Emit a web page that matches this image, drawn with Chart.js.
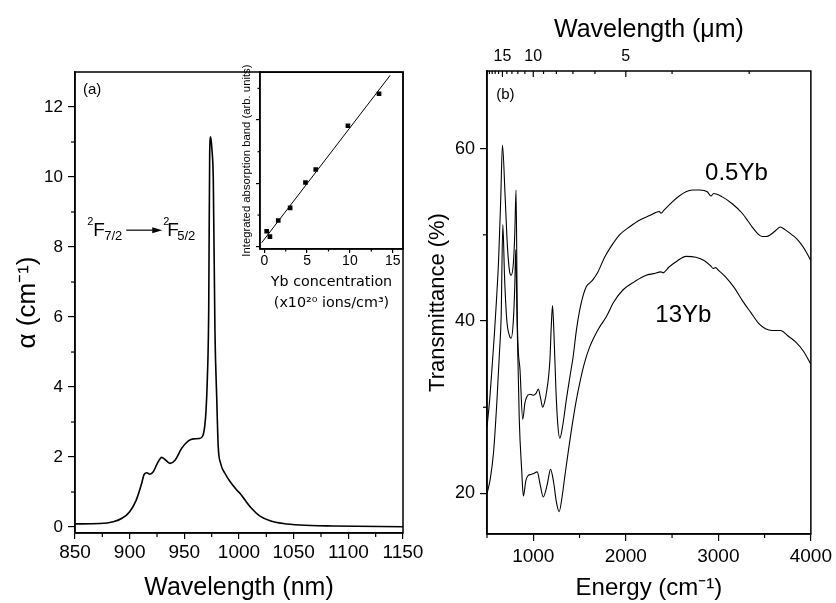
<!DOCTYPE html>
<html>
<head>
<meta charset="utf-8">
<script src="https://cdn.jsdelivr.net/npm/chart.js@4.4.1/dist/chart.umd.min.js"></script>
<style>
  body { margin: 0; background: #fff; }
  #wrap { position: relative; width: 836px; height: 603px; overflow: hidden; }
  canvas { position: absolute; }
</style>
</head>
<body>
<div id="wrap">
  <canvas id="absChart" width="436" height="603" style="left:0px;top:0px"></canvas>
  <canvas id="insetChart" width="185" height="252" style="left:230px;top:62px"></canvas>
  <canvas id="transChart" width="418" height="603" style="left:418px;top:0px"></canvas>
</div>
<script>
// ---- panel (a): absorption spectrum ----
const wavelengthNm = [850, 873, 885, 893, 900, 906, 911, 913, 915.5, 918.6, 921.6, 925.3, 929.3, 932.3,
  936.9, 941.5, 947.6, 953.7, 958.2, 963.7, 966.8, 968.6, 969.8, 971, 972.3, 973.2, 974.1, 975.2,
  976.5, 978, 979.6, 981, 983.2, 987.2, 991.8, 997.9, 1001, 1005.5, 1011.6, 1019.2, 1028.4, 1040.5,
  1055.8, 1086, 1150];
const alpha = [0.09, 0.10, 0.15, 0.25, 0.44, 0.77, 1.25, 1.49, 1.55, 1.51, 1.58, 1.82, 1.99, 1.93,
  1.82, 1.91, 2.25, 2.46, 2.52, 2.53, 2.6, 2.87, 3.3, 4.2, 6.2, 10.7, 11.15, 10.8,
  9.9, 5.6, 3.72, 2.3, 1.82, 1.53, 1.3, 1.06, 0.96, 0.77, 0.53, 0.31, 0.18, 0.10,
  0.057, 0.03, 0.01];
const nmTicks = [850, 900, 950, 1000, 1050, 1100, 1150];
const nmMinor = [875, 925, 975, 1025, 1075, 1125];
const alphaTicks = [0, 2, 4, 6, 8, 10, 12];
const alphaMinor = [1, 3, 5, 7, 9, 11];

// ---- inset: integrated absorption vs Yb concentration ----
const ybConc = [0.28, 0.66, 1.63, 3.02, 4.81, 6.01, 9.77, 13.4];
const integAbs = [0.49, 0.32, 0.83, 1.23, 2.03, 2.44, 3.82, 4.83];
const fitConc = [-0.3, 14.7];
const fitAbs = [0.13, 5.41];
const concTicks = [0, 5, 10, 15];
const concMinor = [2.5, 7.5, 12.5];
const absTicks = [0, 2, 4];
const absMinor = [1, 3, 5];

// ---- panel (b): IR transmittance ----
const energy05 = [500, 530, 555, 580, 600, 625, 648, 667, 696, 721, 742, 760, 785, 800, 814, 828, 857, 886,
  910, 929, 964, 1000, 1030, 1054, 1080, 1101, 1125, 1144, 1165, 1180, 1195, 1208, 1222, 1245, 1265, 1287,
  1320, 1359, 1400, 1430, 1467, 1502, 1540, 1574, 1620, 1645, 1699, 1771, 1850, 1932, 2050, 2147, 2250,
  2362, 2380, 2416, 2500, 2577, 2650, 2720, 2800, 2880, 2920, 2950, 3043, 3150, 3258, 3320, 3366, 3420,
  3473, 3520, 3563, 3620, 3671, 3720, 3796, 3850, 3903, 3950, 4000];
const trans05 = [27.7, 31, 34.7, 38.5, 42, 47, 54, 60.4, 54.4, 48.6, 45.9, 45.3, 46.7, 50, 55.2, 40, 34.3, 28.6,
  30.5, 31.2, 31.5, 31.4, 31.6, 32.1, 31, 30.0, 30.7, 31.8, 33.5, 35.5, 39.5, 41.8, 39, 32, 28, 26.4,
  28, 31, 33.8, 35.8, 39.0, 41.3, 43.0, 44.0, 44.5, 44.8, 45.7, 47.4, 48.8, 50.0, 51, 51.7, 52.2,
  52.7, 52.5, 52.9, 53.8, 54.5, 55.0, 55.2, 55.2, 55.0, 54.5, 54.8, 54.4, 53.6, 52.5, 51.6, 50.9, 50.2,
  49.8, 49.8, 50.0, 50.5, 50.9, 50.6, 50.0, 49.5, 48.8, 48.0, 47.0];
const energy13 = [500, 534, 570, 606, 634, 653, 671, 690, 714, 740, 760, 785, 800, 811, 825, 849, 875, 893,
  920, 946, 975, 1000, 1043, 1075, 1108, 1150, 1187, 1220, 1250, 1280, 1310, 1341, 1380, 1413, 1460, 1502,
  1550, 1610, 1700, 1789, 1870, 1968, 2100, 2219, 2300, 2380, 2400, 2470, 2560, 2650, 2757, 2850, 2918,
  2945, 2970, 3000, 3080, 3170, 3258, 3350, 3438, 3510, 3581, 3640, 3671, 3750, 3832, 3920, 4000];
const trans13 = [20, 21.6, 24.7, 30.5, 36.2, 40.5, 51.2, 45, 40.1, 38.4, 38, 40.1, 44, 48.3, 40, 28.5, 22.7, 19.7,
  21.5, 22.1, 22.2, 22.3, 22.5, 21, 19.6, 21, 22.8, 21.3, 19, 17.9, 19.5, 22, 25, 27.4, 30.5, 32.8,
  35, 37, 39, 40.5, 42.2, 43.6, 44.6, 45.3, 45.5, 45.7, 45.6, 46.3, 47.0, 47.5, 47.4, 47.0, 46.4,
  46.1, 46.2, 45.9, 45.1, 43.9, 42.4, 41.0, 39.7, 39.1, 38.9, 38.9, 38.9, 38.3, 37.6, 36.5, 35.0];
const energyTicks = [1000, 2000, 3000, 4000];
const energyMinor = [500, 1500, 2500, 3500];
const transTicks = [20, 40, 60];
const transMinor = [30, 50];
const umMajor = [15, 10, 5];
const umMinor = [20, 19, 18, 17, 16, 14, 13, 12, 11, 9, 8, 7, 6, 4, 3];

const FONT = '"Liberation Sans", Arial, Helvetica, sans-serif';
Chart.defaults.font.family = FONT;
Chart.defaults.color = '#000';
Chart.defaults.animation = false;

const xy = (xs, ys) => xs.map((x, i) => ({ x: x, y: ys[i] }));
const fixTicks = vals => s => { s.ticks = vals.map(v => ({ value: v })); };
const toMicron = um => 10000 / um;
const plain = v => String(v);

// box around the plot area
const frame = {
  id: 'frame',
  afterDraw(chart) {
    const a = chart.chartArea, ctx = chart.ctx;
    ctx.save();
    ctx.strokeStyle = '#000';
    ctx.lineWidth = 1.5;
    ctx.strokeRect(a.left, a.top, a.right - a.left, a.bottom - a.top);
    ctx.restore();
  }
};

// minor ticks (and inward ticks on the top axis)
function tickMarks(marks) {
  return {
    id: 'tickMarks',
    afterDraw(chart) {
      const ctx = chart.ctx;
      ctx.save();
      ctx.strokeStyle = '#000';
      ctx.lineWidth = 1.2;
      marks.forEach(m => {
        const s = chart.scales[m.axis];
        m.values.forEach(v => {
          const p = s.getPixelForValue(v);
          ctx.beginPath();
          if (s.isHorizontal()) {
            const y0 = s.position === 'top' ? s.bottom : s.top;
            ctx.moveTo(p, y0); ctx.lineTo(p, y0 + m.len);
          } else {
            ctx.moveTo(s.right, p); ctx.lineTo(s.right - m.len, p);
          }
          ctx.stroke();
        });
      });
      ctx.restore();
    }
  };
}

function txt(ctx, s, x, y, size, base) {
  ctx.font = size + 'px ' + FONT;
  ctx.textBaseline = base || 'alphabetic';
  ctx.textAlign = 'left';
  ctx.fillText(s, x, y);
}

function textLabels(draw) {
  return {
    id: 'textLabels',
    afterDraw(chart) {
      const ctx = chart.ctx;
      ctx.save();
      ctx.fillStyle = '#000';
      ctx.strokeStyle = '#000';
      draw(chart, ctx, chart.scales.x, chart.scales.y);
      ctx.restore();
    }
  };
}

const axisGrid = len => ({ drawOnChartArea: false, tickLength: len, color: '#000', lineWidth: 1.2 });
const axisBorder = { color: '#000', width: 1.5 };

// ---------- panel (a) ----------
new Chart(document.getElementById('absChart'), {
  type: 'line',
  data: {
    datasets: [{
      data: xy(wavelengthNm, alpha),
      borderColor: '#000',
      borderWidth: 1.6,
      pointRadius: 0,
      cubicInterpolationMode: 'monotone',
      fill: false
    }]
  },
  options: {
    responsive: false,
    layout: { padding: { left: 0, right: 33, top: 72, bottom: 0 } },
    plugins: { legend: { display: false }, tooltip: { enabled: false } },
    scales: {
      x: {
        type: 'linear', min: 850, max: 1150,
        afterBuildTicks: fixTicks(nmTicks),
        afterFit: s => { s.height = 70; },
        grid: axisGrid(6),
        border: axisBorder,
        ticks: { font: { size: 19 }, padding: 2, maxRotation: 0, autoSkip: false, callback: plain },
        title: { display: true, text: 'Wavelength (nm)', font: { size: 25 }, padding: { top: 0, bottom: 0 } }
      },
      y: {
        type: 'linear', min: -0.17, max: 13,
        afterBuildTicks: fixTicks(alphaTicks),
        afterFit: s => { s.width = 75; },
        grid: axisGrid(7),
        border: axisBorder,
        ticks: { font: { size: 17 }, padding: 5, callback: plain },
        title: { display: true, text: 'α (cm⁻¹)', font: { size: 26 }, padding: { top: 12, bottom: 0 } }
      }
    }
  },
  plugins: [frame,
    tickMarks([{ axis: 'x', values: nmMinor, len: 4 }, { axis: 'y', values: alphaMinor, len: 4 }]),
    textLabels((chart, ctx, x, y) => {
      txt(ctx, '(a)', x.getPixelForValue(857.3), y.getPixelForValue(12.49), 15, 'middle');
      const fx = x.getPixelForValue(866.7), fy = y.getPixelForValue(8.31);
      txt(ctx, '2', fx - 6, fy - 11.5, 11);
      txt(ctx, 'F', fx, fy, 19);
      txt(ctx, '7/2', fx + 11, fy + 4, 13);
      ctx.lineWidth = 1.2;
      ctx.beginPath(); ctx.moveTo(fx + 33, fy - 6); ctx.lineTo(fx + 60, fy - 6); ctx.stroke();
      ctx.beginPath(); ctx.moveTo(fx + 69, fy - 6); ctx.lineTo(fx + 59, fy - 9);
      ctx.lineTo(fx + 59, fy - 3); ctx.closePath(); ctx.fill();
      txt(ctx, '2', fx + 70, fy - 11.5, 11);
      txt(ctx, 'F', fx + 74, fy, 19);
      txt(ctx, '5/2', fx + 84, fy + 4, 13);
    })]
});

// ---------- inset ----------
new Chart(document.getElementById('insetChart'), {
  type: 'scatter',
  data: {
    datasets: [
      {
        data: xy(ybConc, integAbs),
        pointStyle: 'rect',
        pointRadius: 3.3,
        backgroundColor: '#000',
        borderColor: '#000',
        borderWidth: 0
      },
      {
        data: xy(fitConc, fitAbs),
        showLine: true,
        pointRadius: 0,
        borderColor: '#000',
        borderWidth: 1
      }
    ]
  },
  options: {
    responsive: false,
    layout: { padding: { left: 0, right: 12, top: 10, bottom: 0 } },
    plugins: { legend: { display: false }, tooltip: { enabled: false } },
    scales: {
      x: {
        type: 'linear', min: -0.5, max: 16.2,
        afterBuildTicks: fixTicks(concTicks),
        afterFit: s => { s.height = 65; },
        grid: axisGrid(4),
        border: axisBorder,
        ticks: { font: { size: 14 }, padding: 0, maxRotation: 0, autoSkip: false, callback: plain },
        title: {
          display: true,
          text: ['Yb concentration', '(x10²⁰ ions/cm³)'],
          font: { family: '"DejaVu Sans", sans-serif', size: 14.3, lineHeight: 1.5 },
          padding: { top: 0, bottom: 0 }
        }
      },
      y: {
        type: 'linear', min: -0.07, max: 5.51,
        afterBuildTicks: fixTicks(absTicks),
        afterFit: s => { s.width = 30; },
        grid: axisGrid(4),
        border: axisBorder,
        ticks: { callback: () => '' },
        title: {
          display: true, text: 'Integrated absorption band (arb. units)',
          font: { size: 11.3 }, padding: { top: 10, bottom: 0 }
        }
      }
    }
  },
  plugins: [frame,
    tickMarks([{ axis: 'x', values: concMinor, len: 2.5 }, { axis: 'y', values: absMinor, len: 2.5 }])]
});

// ---------- panel (b) ----------
const curve = { borderColor: '#000', borderWidth: 1.1, pointRadius: 0, cubicInterpolationMode: 'monotone', fill: false };

new Chart(document.getElementById('transChart'), {
  type: 'line',
  data: {
    datasets: [
      Object.assign({ label: '0.5Yb', data: xy(energy05, trans05) }, curve),
      Object.assign({ label: '13Yb', data: xy(energy13, trans13) }, curve)
    ]
  },
  options: {
    responsive: false,
    layout: { padding: { left: 0, right: 24, top: 0, bottom: 0 } },
    plugins: { legend: { display: false }, tooltip: { enabled: false } },
    scales: {
      x: {
        type: 'linear', min: 500, max: 4000,
        afterBuildTicks: fixTicks(energyTicks),
        afterFit: s => { s.height = 69; },
        grid: axisGrid(7),
        border: axisBorder,
        ticks: { font: { size: 19 }, padding: 4, maxRotation: 0, autoSkip: false, callback: plain },
        title: { display: true, text: 'Energy (cm⁻¹)', font: { size: 24 }, padding: { top: 0, bottom: 0 } }
      },
      x2: {
        type: 'linear', position: 'top', min: 500, max: 4000,
        afterBuildTicks: fixTicks(umMajor.map(toMicron)),
        afterFit: s => { s.height = 71; },
        grid: { drawOnChartArea: false, drawTicks: false },
        border: { display: false },
        ticks: { font: { size: 16 }, padding: 5, maxRotation: 0, autoSkip: false,
          callback: v => String(Math.round(10000 / v)) },
        title: { display: true, text: 'Wavelength (μm)', font: { size: 25 }, padding: { top: 15, bottom: 0 } }
      },
      y: {
        type: 'linear', min: 15.3, max: 69,
        afterBuildTicks: fixTicks(transTicks),
        afterFit: s => { s.width = 69; },
        grid: axisGrid(7),
        border: axisBorder,
        ticks: { font: { size: 18 }, padding: 5, callback: plain },
        title: { display: true, text: 'Transmittance (%)', font: { size: 22 }, padding: { top: 7, bottom: 0 } }
      }
    }
  },
  plugins: [frame,
    tickMarks([
      { axis: 'x', values: energyMinor, len: 4 },
      { axis: 'y', values: transMinor, len: 4 },
      { axis: 'x2', values: umMajor.map(toMicron), len: 6 },
      { axis: 'x2', values: umMinor.map(toMicron), len: 3 }
    ]),
    textLabels((chart, ctx, x, y) => {
      txt(ctx, '(b)', x.getPixelForValue(599), y.getPixelForValue(66.2), 15, 'middle');
      txt(ctx, '0.5Yb', x.getPixelForValue(2857), y.getPixelForValue(56.3), 24);
      txt(ctx, '13Yb', x.getPixelForValue(2319), y.getPixelForValue(39.9), 24);
    })]
});
</script>
</body>
</html>
